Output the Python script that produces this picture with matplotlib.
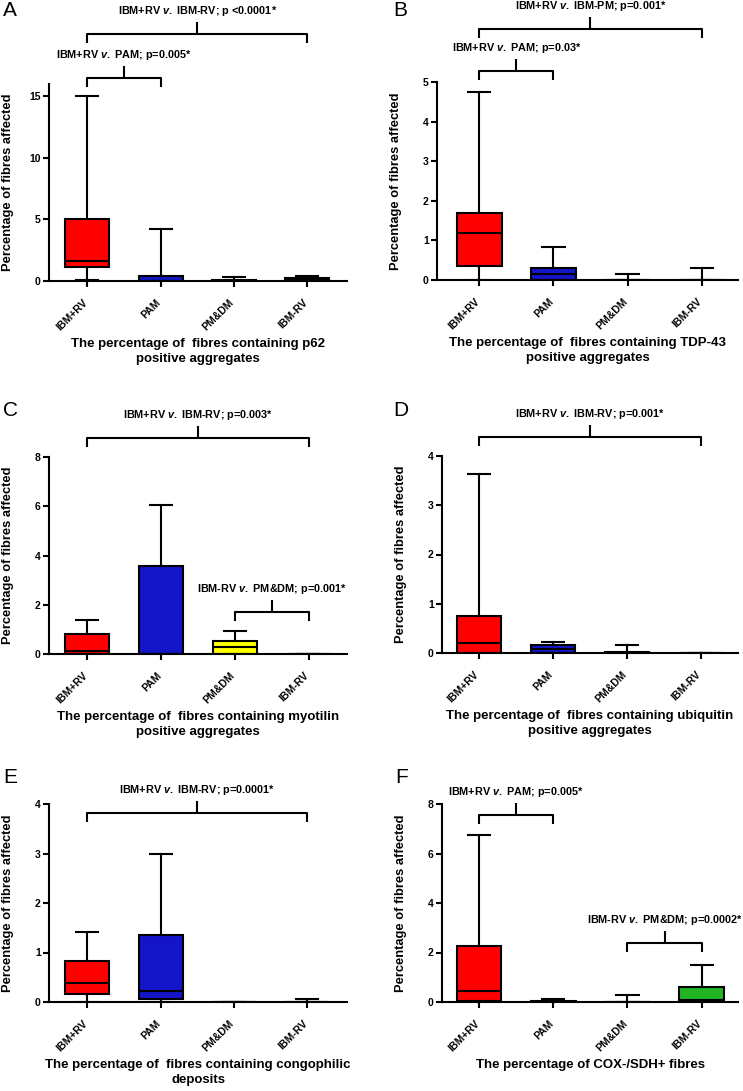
import numpy as np
import matplotlib
matplotlib.use('Agg')
import matplotlib.pyplot as plt
from matplotlib.transforms import ScaledTranslation

plt.rcParams['font.family'] = ['Liberation Sans', 'DejaVu Sans']
plt.rcParams['mathtext.fontset'] = 'custom'
plt.rcParams['mathtext.it'] = 'Liberation Sans:italic:bold'
plt.rcParams['mathtext.rm'] = 'Liberation Sans:bold'

groups = ['IBM+RV', 'PAM', 'PM&DM', 'IBM-RV']
box_colors = ['#ff0000', '#1414c8', '#ffff00', '#22b422']
V = r'$\it{v.}$'

# A - p62
p62_lo = [0.1, 0, 0, 0]
p62_q1 = [1.1, 0, 0, 0.02]
p62_med = [1.65, 0.02, 0.02, 0.05]
p62_q3 = [5.0, 0.38, 0.11, 0.27]
p62_hi = [15.0, 4.2, 0.3, 0.43]
p62_ticks = [0, 5, 10, 15]

# B - TDP-43
tdp_lo = [0, 0, 0, 0]
tdp_q1 = [0.36, 0, 0, 0]
tdp_med = [1.19, 0.15, 0, 0]
tdp_q3 = [1.68, 0.31, 0, 0]
tdp_hi = [4.75, 0.84, 0.14, 0.31]
tdp_ticks = [0, 1, 2, 3, 4, 5]

# C - myotilin
myo_lo = [0, 0, 0, 0]
myo_q1 = [0, 0, 0, 0]
myo_med = [0.13, 0, 0.28, 0]
myo_q3 = [0.81, 3.56, 0.51, 0]
myo_hi = [1.39, 6.06, 0.92, 0]
myo_ticks = [0, 2, 4, 6, 8]

# D - ubiquitin
ubi_lo = [0, 0, 0, 0]
ubi_q1 = [0, 0, 0, 0]
ubi_med = [0.2, 0.08, 0, 0]
ubi_q3 = [0.76, 0.17, 0.03, 0]
ubi_hi = [3.63, 0.23, 0.17, 0]
ubi_ticks = [0, 1, 2, 3, 4]

# E - congophilic
cong_lo = [0, 0, 0, 0]
cong_q1 = [0.155, 0.07, 0, 0]
cong_med = [0.385, 0.22, 0, 0]
cong_q3 = [0.82, 1.36, 0, 0.01]
cong_hi = [1.41, 2.99, 0, 0.055]
cong_ticks = [0, 1, 2, 3, 4]

# F - COX-/SDH+
cox_lo = [0, 0, 0, 0]
cox_q1 = [0.03, 0, 0, 0.03]
cox_med = [0.43, 0.01, 0, 0.1]
cox_q3 = [2.26, 0.05, 0.01, 0.6]
cox_hi = [6.73, 0.14, 0.30, 1.49]
cox_ticks = [0, 2, 4, 6, 8]

panels = [
    ('A', [p62_lo, p62_q1, p62_med, p62_q3, p62_hi], p62_ticks, 16,
     'The percentage of  fibres containing p62\npositive aggregates',
     [(0, 1, 16.46, 'IBM+RV ' + V + ' PAM; p=0.005*'),
      (0, 3, 20.09, 'IBM+RV ' + V + ' IBM-RV; p <0.0001*')]),
    ('B', [tdp_lo, tdp_q1, tdp_med, tdp_q3, tdp_hi], tdp_ticks, 5,
     'The percentage of  fibres containing TDP-43\npositive aggregates',
     [(0, 1, 5.29, 'IBM+RV ' + V + ' PAM; p=0.03*'),
      (0, 3, 6.35, 'IBM+RV ' + V + ' IBM-PM; p=0.001*')]),
    ('C', [myo_lo, myo_q1, myo_med, myo_q3, myo_hi], myo_ticks, 8,
     'The percentage of  fibres containing myotilin\npositive aggregates',
     [(0, 3, 8.77, 'IBM+RV ' + V + ' IBM-RV; p=0.003*'),
      (2, 3, 1.70, 'IBM-RV ' + V + ' PM&DM; p=0.001*')]),
    ('D', [ubi_lo, ubi_q1, ubi_med, ubi_q3, ubi_hi], ubi_ticks, 4,
     'The percentage of  fibres containing ubiquitin\npositive aggregates',
     [(0, 3, 4.38, 'IBM+RV ' + V + ' IBM-RV; p=0.001*')]),
    ('E', [cong_lo, cong_q1, cong_med, cong_q3, cong_hi], cong_ticks, 4,
     'The percentage of  fibres containing congophilic\ndeposits',
     [(0, 3, 3.81, 'IBM+RV ' + V + ' IBM-RV; p=0.0001*')]),
    ('F', [cox_lo, cox_q1, cox_med, cox_q3, cox_hi], cox_ticks, 8,
     'The percentage of COX-/SDH+ fibres',
     [(0, 1, 7.56, 'IBM+RV ' + V + ' PAM; p=0.005*'),
      (2, 3, 2.39, 'IBM-RV ' + V + ' PM&DM; p=0.0002*')]),
]

W, H = 743, 1091
# axes boxes in pixels: left, right, bottom, top
axes_px = [(49, 347, 281, 84), (437, 738, 280, 82),
           (49, 347, 654, 457), (442, 738, 653, 456),
           (49, 347, 1002, 804), (442, 738, 1002, 804)]
xlims = [(-0.52, 3.54), (-0.57, 3.49), (-0.52, 3.52),
         (-0.5, 3.5), (-0.52, 3.54), (-0.5, 3.49)]
letter_px = [(3, 1), (393, 1), (3, 401), (393, 401), (3, 768), (395, 768)]

fig = plt.figure(figsize=(W / 100, H / 100), dpi=100)
shift = ScaledTranslation(-5 / 100, -8 / 100, fig.dpi_scale_trans)

for k, (letter, st, ticks, ytop, title, brackets) in enumerate(panels):
    x0, x1, yb, yt = axes_px[k]
    ax = fig.add_axes([x0 / W, 1 - yb / H, (x1 - x0) / W, (yb - yt) / H])
    stats = [dict(whislo=a, q1=b, med=c, q3=d, whishi=e)
             for a, b, c, d, e in zip(*st)]
    bp = ax.bxp(stats, positions=range(4), widths=0.6, capwidths=0.3,
                patch_artist=True, showfliers=False,
                boxprops=dict(linewidth=1.5, edgecolor='k'),
                medianprops=dict(color='k', linewidth=1.5),
                whiskerprops=dict(color='k', linewidth=1.5),
                capprops=dict(color='k', linewidth=1.5))
    for patch, c in zip(bp['boxes'], box_colors):
        patch.set_facecolor(c)

    ax.set_xlim(*xlims[k])
    ax.set_ylim(0, ytop)
    ax.set_yticks(ticks)
    ax.set_xticks(range(4))
    for s in ['top', 'right']:
        ax.spines[s].set_visible(False)
    for s in ['left', 'bottom']:
        ax.spines[s].set_linewidth(1.5)
    ax.tick_params(direction='out', length=4, width=1.5, pad=2)
    ax.set_xticklabels(groups, rotation=45, ha='right', va='top',
                       rotation_mode='anchor', fontsize=7.5, fontweight='bold')
    for lab in ax.get_xticklabels():
        lab.set_transform(lab.get_transform() + shift)
    for lab in ax.get_yticklabels():
        lab.set_fontweight('bold')
        lab.set_fontsize(7.5)

    ax.annotate('Percentage of fibres affected', xy=(0, 0.5),
                xycoords='axes fraction', xytext=(-29.5, 0),
                textcoords='offset points', rotation=90, ha='center',
                va='center', fontsize=9.3, fontweight='bold')
    ax.annotate(title, xy=(0.5, 0), xycoords='axes fraction',
                xytext=(0, -41), textcoords='offset points', ha='center',
                va='top', fontsize=9.5, fontweight='bold', linespacing=1.3)

    px = ytop / (yb - yt)
    for i, j, y, label in brackets:
        drop, stem = 9 * px, 12 * px
        ax.plot([i, i, j, j], [y - drop, y, y, y - drop], color='k', lw=1.5,
                clip_on=False, solid_capstyle='butt')
        mid = (i + j) / 2
        ax.plot([mid, mid], [y, y + stem], color='k', lw=1.5, clip_on=False,
                solid_capstyle='butt')
        ax.text(mid, y + stem + 4 * px, label, ha='center', va='bottom',
                fontsize=7.8, fontweight='bold', clip_on=False)

    lx, ly = letter_px[k]
    fig.text(lx / W, 1 - ly / H, letter, ha='left', va='top', fontsize=15)

fig.savefig('out.png', dpi=100)
